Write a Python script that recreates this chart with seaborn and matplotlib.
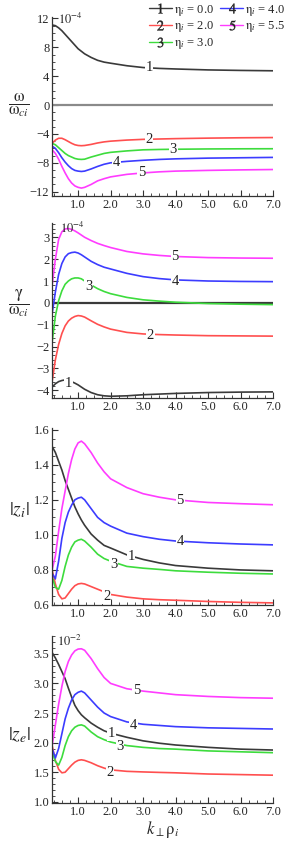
import numpy as np
import pandas as pd
import matplotlib
matplotlib.use("Agg")
import matplotlib.pyplot as plt
from matplotlib.lines import Line2D
from matplotlib.ticker import AutoMinorLocator, MultipleLocator, FixedLocator
import seaborn as sns

# k_perp * rho_i grid
k = [0.2, 0.3, 0.4, 0.5, 0.6, 0.7, 0.8, 0.9, 1.0, 1.1, 1.2, 1.4, 1.6, 1.8,
     2.0, 2.5, 3.0, 3.5, 4.0, 5.0, 6.0, 7.0]

curves = ['1', '2', '3', '4', '5']
eta_labels = ['0.0', '2.0', '3.0', '4.0', '5.5']

# omega / omega_ci  (x 1e-4)
w1 = [11.1, 11.0, 10.7, 10.3, 9.8, 9.3, 8.8, 8.3, 7.8, 7.45, 7.1, 6.6, 6.2, 5.95, 5.8, 5.45, 5.2, 5.08, 5.0, 4.87, 4.8, 4.75]
w2 = [-5.3, -4.85, -4.6, -4.6, -4.8, -5.05, -5.3, -5.5, -5.6, -5.63, -5.6, -5.45, -5.25, -5.1, -5.0, -4.85, -4.75, -4.7, -4.65, -4.58, -4.53, -4.5]
w3 = [-5.3, -5.5, -5.9, -6.3, -6.7, -7.0, -7.2, -7.4, -7.5, -7.53, -7.5, -7.2, -6.95, -6.7, -6.55, -6.35, -6.2, -6.15, -6.12, -6.08, -6.06, -6.05]
w4 = [-5.7, -6.0, -6.6, -7.3, -7.9, -8.4, -8.8, -9.05, -9.15, -9.2, -9.15, -8.85, -8.5, -8.2, -8.0, -7.8, -7.65, -7.53, -7.45, -7.35, -7.3, -7.25]
w5 = [-6.2, -6.7, -7.5, -8.5, -9.4, -10.2, -10.8, -11.2, -11.4, -11.5, -11.4, -11.0, -10.5, -10.2, -9.95, -9.6, -9.4, -9.25, -9.15, -9.05, -8.98, -8.93]

# gamma / omega_ci  (x 1e-4)
g1 = [-3.85, -3.7, -3.6, -3.55, -3.52, -3.54, -3.6, -3.67, -3.75, -3.85, -3.95, -4.1, -4.2, -4.25, -4.27, -4.25, -4.2, -4.17, -4.14, -4.1, -4.08, -4.07]
g2 = [-3.6, -2.6, -1.9, -1.4, -1.05, -0.83, -0.7, -0.62, -0.58, -0.6, -0.65, -0.82, -0.98, -1.1, -1.2, -1.35, -1.42, -1.45, -1.47, -1.5, -1.51, -1.52]
g3 = [-1.8, -0.6, 0.1, 0.55, 0.85, 1.0, 1.1, 1.14, 1.14, 1.1, 1.0, 0.82, 0.65, 0.52, 0.42, 0.25, 0.14, 0.08, 0.03, -0.03, -0.06, -0.08]
g4 = [-0.5, 0.5, 1.3, 1.8, 2.1, 2.25, 2.3, 2.32, 2.28, 2.2, 2.1, 1.9, 1.75, 1.63, 1.55, 1.35, 1.2, 1.11, 1.05, 1.0, 0.98, 0.97]
g5 = [0.8, 2.0, 2.9, 3.25, 3.38, 3.4, 3.36, 3.29, 3.2, 3.1, 3.0, 2.85, 2.72, 2.62, 2.53, 2.35, 2.24, 2.17, 2.12, 2.07, 2.05, 2.04]

# |z_i|
zi1 = [1.505, 1.47, 1.42, 1.37, 1.31, 1.26, 1.21, 1.16, 1.12, 1.085, 1.055, 1.005, 0.97, 0.94, 0.925, 0.886, 0.86, 0.84, 0.825, 0.81, 0.8, 0.795]
zi2 = [0.8, 0.72, 0.66, 0.635, 0.64, 0.665, 0.69, 0.71, 0.72, 0.723, 0.72, 0.705, 0.69, 0.675, 0.66, 0.645, 0.635, 0.63, 0.627, 0.62, 0.615, 0.612]
zi3 = [0.76, 0.7, 0.69, 0.74, 0.82, 0.885, 0.93, 0.96, 0.97, 0.975, 0.965, 0.93, 0.89, 0.865, 0.85, 0.82, 0.81, 0.803, 0.795, 0.787, 0.781, 0.777]
zi4 = [0.78, 0.75, 0.85, 0.98, 1.07, 1.13, 1.17, 1.2, 1.21, 1.215, 1.2, 1.15, 1.1, 1.07, 1.05, 1.01, 0.99, 0.975, 0.965, 0.955, 0.948, 0.943]
zi5 = [0.8, 0.88, 1.02, 1.15, 1.25, 1.35, 1.43, 1.49, 1.525, 1.535, 1.52, 1.47, 1.41, 1.36, 1.32, 1.27, 1.235, 1.215, 1.2, 1.185, 1.178, 1.172]

# |z_e|  (x 1e-2)
ze1 = [3.52, 3.43, 3.32, 3.2, 3.08, 2.92, 2.77, 2.63, 2.54, 2.47, 2.42, 2.33, 2.26, 2.2, 2.16, 2.09, 2.03, 1.99, 1.96, 1.92, 1.89, 1.875]
ze2 = [1.95, 1.7, 1.55, 1.49, 1.5, 1.56, 1.62, 1.67, 1.7, 1.71, 1.7, 1.66, 1.61, 1.57, 1.54, 1.515, 1.505, 1.497, 1.49, 1.47, 1.46, 1.45]
ze3 = [1.85, 1.68, 1.62, 1.75, 1.95, 2.1, 2.2, 2.26, 2.29, 2.3, 2.28, 2.18, 2.1, 2.05, 2.01, 1.95, 1.92, 1.9, 1.89, 1.86, 1.845, 1.83]
ze4 = [1.9, 1.74, 1.9, 2.15, 2.4, 2.58, 2.72, 2.81, 2.85, 2.87, 2.84, 2.72, 2.6, 2.5, 2.44, 2.35, 2.31, 2.29, 2.27, 2.25, 2.24, 2.23]
ze5 = [1.95, 2.3, 2.65, 2.95, 3.2, 3.37, 3.48, 3.55, 3.58, 3.585, 3.56, 3.42, 3.25, 3.1, 3.0, 2.91, 2.87, 2.84, 2.81, 2.78, 2.76, 2.75]

colors = ['#3a3a3a', '#ff4f4f', '#3ddc3d', '#3c3cff', '#ff3cff']

sns.set_style('ticks')
plt.rcParams['font.family'] = ['Liberation Serif', 'DejaVu Serif']
plt.rcParams['mathtext.fontset'] = 'stix'


def long_frame(series):
    rows = []
    for name, vals in zip(curves, series):
        for x, v in zip(k, vals):
            rows.append({'k': x, 'val': v, 'curve': name})
    return pd.DataFrame(rows)


fig = plt.figure(figsize=(2.88, 8.42), dpi=100)
left, width = 0.181, 0.767
boxes = [
    (0.7672, 0.2126),
    (0.5273, 0.2078),
    (0.2815, 0.2102),
    (0.0463, 0.1983),
]
axes = [fig.add_axes([left, b, width, h]) for b, h in boxes]

panels = [
    dict(data=[w1, w2, w3, w4, w5], ylim=(-12.6, 12.2), major=4, minor=4,
         ylabel=r'$\dfrac{\mathrm{ω}}{\mathrm{ω}_{ci}}$', ylab_y=105, lab_fs=12,
         scale=r'$10^{-4}$', scale_xy=(58, 19), zero='#8a8a8a',
         tags=[(3.18, 5.2), (3.18, -4.75), (3.93, -6.15), (2.19, -7.9), (2.96, -9.4)]),
    dict(data=[g1, g2, g3, g4, g5], ylim=(-4.35, 3.65), major=1, minor=5,
         ylabel=r'$\dfrac{\mathrm{γ}}{\mathrm{ω}_{ci}}$', ylab_y=303, lab_fs=12,
         scale=r'$10^{-4}$', scale_xy=(60, 228), zero='#3a3a3a',
         tags=[(0.70, -3.69), (3.22, -1.48), (1.32, 0.75), (3.98, 1.0), (3.98, 2.1)]),
    dict(data=[zi1, zi2, zi3, zi4, zi5], ylim=(0.6, 1.61), major=0.2, minor=4,
         ylabel=r'$|z_i|$', ylab_y=510, lab_fs=14, scale=None, scale_xy=None, zero=None,
         tags=[(2.63, 0.876), (1.88, 0.647), (2.09, 0.829), (4.14, 0.96), (4.14, 1.196)]),
    dict(data=[ze1, ze2, ze3, ze4, ze5], ylim=(0.98, 3.8), major=0.5, minor=5,
         ylabel=r'$|z_e|$', ylab_y=735, lab_fs=14, scale=r'$10^{-2}$',
         scale_xy=(57, 641), zero=None,
         tags=[(2.02, 2.15), (1.98, 1.5), (2.29, 1.93), (2.71, 2.29), (2.8, 2.88)]),
]

for ax, p in zip(axes, panels):
    df = long_frame(p['data'])
    if p['zero']:
        ax.axhline(0, color=p['zero'], lw=1.6, zorder=1)
    sns.lineplot(data=df, x='k', y='val', hue='curve', palette=colors,
                 legend=False, ax=ax, linewidth=1.2, zorder=2)
    ax.set_xlim(0.2, 7.0)
    ax.set_ylim(*p['ylim'])
    ax.xaxis.set_major_locator(FixedLocator([1, 2, 3, 4, 5, 6, 7]))
    ax.xaxis.set_minor_locator(MultipleLocator(0.25))
    ax.set_xticklabels(['1.0', '2.0', '3.0', '4.0', '5.0', '6.0', '7.0'])
    ax.yaxis.set_major_locator(MultipleLocator(p['major']))
    ax.yaxis.set_minor_locator(AutoMinorLocator(p['minor']))
    if p['major'] < 1:
        ax.yaxis.set_major_formatter(matplotlib.ticker.FormatStrFormatter('%.1f'))
    else:
        ax.yaxis.set_major_formatter(
            matplotlib.ticker.FuncFormatter(lambda v, pos: f'{int(round(v))}'.replace('-', '\u2212')))
    ax.tick_params(axis='both', which='major', direction='in', length=4, width=0.8,
                   labelsize=9, pad=2, color='#333333')
    ax.tick_params(axis='both', which='minor', direction='in', length=2, width=0.6,
                   color='#333333')
    sns.despine(ax=ax)
    for s in ['left', 'bottom']:
        ax.spines[s].set_color('#333333')
        ax.spines[s].set_linewidth(0.9)
    ax.set_xlabel('')
    ax.set_ylabel('')
    fig.text(19 / 288, 1 - p['ylab_y'] / 842, p['ylabel'], fontsize=p['lab_fs'],
             ha='center', va='center')
    if p['scale']:
        fig.text(p['scale_xy'][0] / 288, 1 - p['scale_xy'][1] / 842, p['scale'],
                 fontsize=9, ha='left', va='center')
    for name, (tx, ty), c in zip(curves, p['tags'], colors):
        ax.text(tx, ty, name, fontsize=10.5, ha='center', va='center', color='#222222',
                bbox=dict(boxstyle='square,pad=0.05', fc='white', ec='none'), zorder=3)

axes[3].set_xlabel(r'$k_{\perp}\mathrm{ρ}_i$', fontsize=12, labelpad=1)

handles = [Line2D([0], [0], color=c, lw=1.0, marker='$' + n + '$', markersize=7,
                  markerfacecolor='#222222', markeredgecolor='#222222', markeredgewidth=0.3)
           for n, c in zip(curves, colors)]
labels = [r'$\mathrm{η}_i$ = ' + e for e in eta_labels]
fig.legend(handles, labels, ncol=2, loc='upper right', bbox_to_anchor=(1.0, 1.0),
           frameon=False, fontsize=9, handlelength=1.8, handletextpad=0.2,
           columnspacing=0.5, labelspacing=0.15, borderaxespad=0.1, borderpad=0.1,
           numpoints=1)

fig.savefig('out.png', dpi=100)
